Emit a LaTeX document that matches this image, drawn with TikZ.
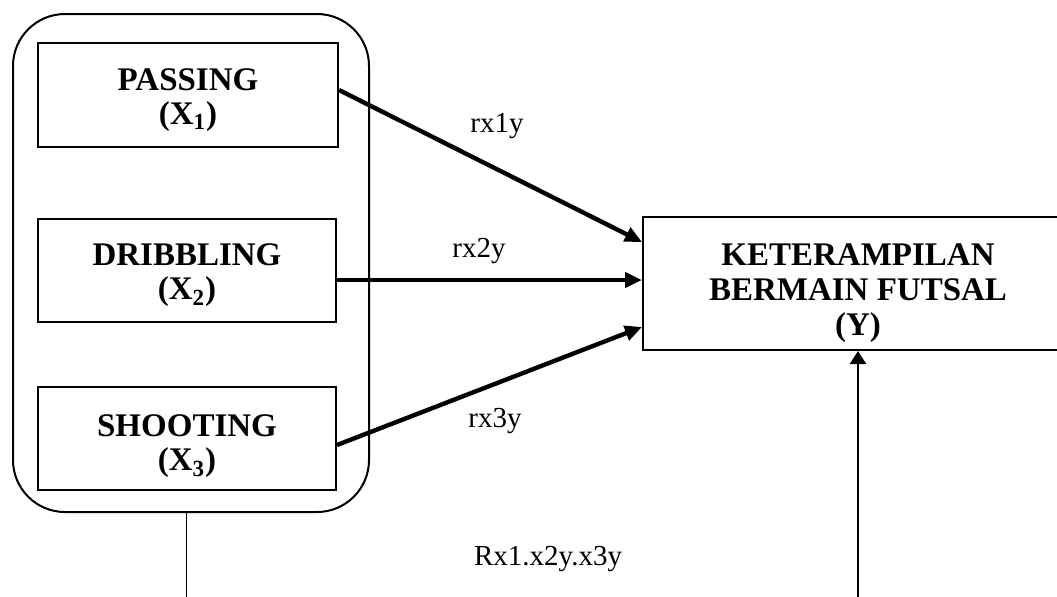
\documentclass[tikz,border=0pt]{standalone}
\usepackage{fontspec}
\setmainfont{Liberation Serif}
\usetikzlibrary{arrows.meta}

\newcommand{\topgap}[1]{\rule{0pt}{#1}}

\begin{document}
\begin{tikzpicture}[x=0.5pt,y=-0.5pt,
                    var node/.style={rectangle, draw, line width=1pt, align=center, inner sep=0pt,
                                     minimum width=149pt, minimum height=51.5pt,
                                     font=\fontsize{16.5}{17}\selectfont\bfseries},
                    path node/.style={anchor=base, font=\fontsize{14.5}{16}\selectfont},
                    link/.style={line width=2.2pt, -{Triangle[length=8.5pt,width=7.5pt]}}]

  \useasboundingbox (0,0) rectangle (1057,596);

  %Variables X%
  \node[draw, line width=1pt, rounded corners=26pt, minimum width=178pt, minimum height=249pt] (grp) at (191,263) {};
  \node[var node, minimum width=150pt, minimum height=52pt] (pass) at (188,95) {\topgap{16pt}PASSING\\(X\textsubscript{1})};
  \node[var node] (drib) at (187,270.5) {\topgap{16pt}DRIBBLING\\(X\textsubscript{2})};
  \node[var node] (shoot) at (187,438.5) {\topgap{19pt}SHOOTING\\(X\textsubscript{3})};

  %Variable Y%
  \node[var node, minimum width=215pt, minimum height=66.5pt, font=\fontsize{16.5}{17.5}\selectfont\bfseries] (ket) at (858,283.5) {\topgap{20.5pt}KETERAMPILAN\\BERMAIN FUTSAL\\(Y)};

  %Paths%
  \draw[link] ([yshift=2.5pt]pass.east) -- ([yshift=20.75pt]ket.west);
  \draw[link] ([yshift=-4.75pt]drib.east) -- ([yshift=1.75pt]ket.west);
  \draw[link] ([yshift=-3.25pt]shoot.east) -- ([yshift=-21.75pt]ket.west);

  \node[path node] (r1) at (497,132) {rx1y};
  \node[path node] (r2) at (479,257) {rx2y};
  \node[path node] (r3) at (495,427) {rx3y};
  \node[path node] (r123) at (548,565) {Rx1.x2y.x3y};

  \coordinate (gbot) at (186,600);
  \coordinate (ybot) at (858,600);
  \draw[line width=0.5pt] ([xshift=-2.5pt]grp.south) -- (gbot);
  \draw[line width=1.2pt, -{Triangle[length=6.5pt,width=8pt]}] (ybot) -- (ket.south);
\end{tikzpicture}
\end{document}
